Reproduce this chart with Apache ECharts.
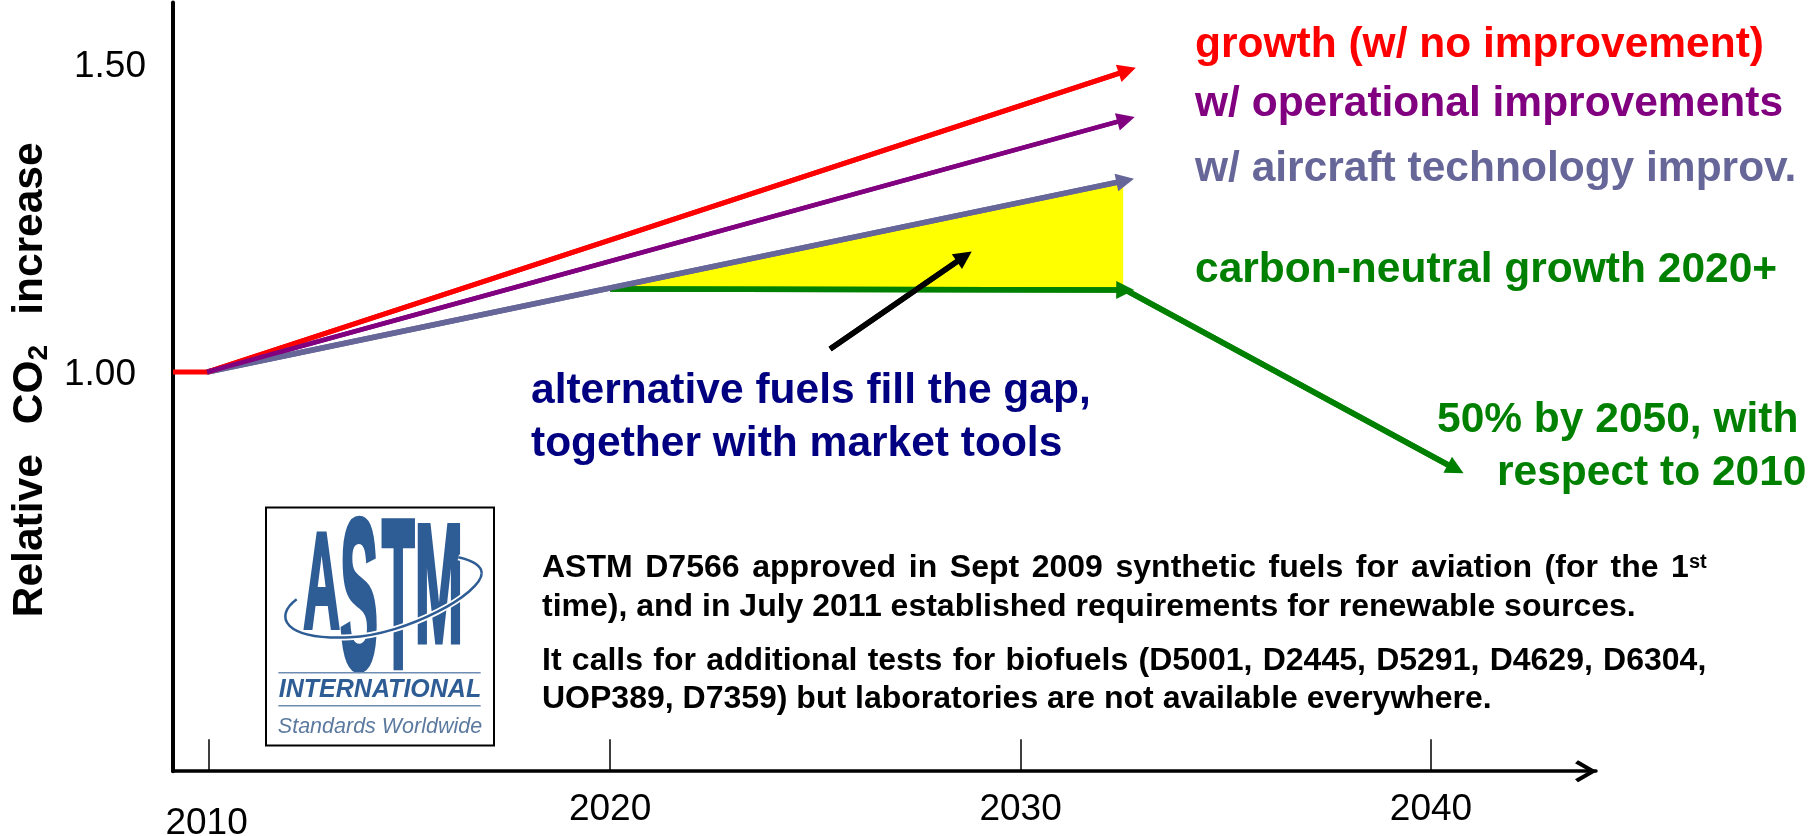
<!DOCTYPE html>
<html><head><meta charset="utf-8">
<style>html,body{margin:0;padding:0;background:#fff}#c{width:1810px;height:836px}</style>
<script src="https://cdn.jsdelivr.net/npm/echarts@6/dist/echarts.min.js"></script>
</head><body><div id="c"></div>
<script>
// ---- data ----
const xTicks = [2010.23, 2020, 2030, 2040];
const yTicks = [1.0, 1.5];
const growthX = [2009.35, 2010.18, 2032.6];
const growthY = [1.0, 1.0, 1.4894];
const operationalX = [2010.18, 2032.57];
const operationalY = [1.0, 1.41];
const technologyX = [2010.18, 2032.55];
const technologyY = [1.0, 1.3106];
const neutralX = [2020, 2032.55];
const neutralY = [1.1347, 1.1331];
const reductionX = [2032.38, 2040.6];
const reductionY = [1.1396, 0.8425];
const pointerX = [2025.36, 2028.63];
const pointerY = [1.0373, 1.1875];
const gapX = [2020, 2032.5, 2032.5];
const gapY = [1.136, 1.308, 1.138];
// ---- text ----
const seriesLabels = ['growth (w/ no improvement)','w/ operational improvements','w/ aircraft technology improv.','carbon-neutral growth 2020+'];
const gapLabel = ['alternative fuels fill the gap,','together with market tools'];
const targetLabel = ['50% by 2050, with','respect to 2010'];
const noteLines = [
 'ASTM D7566 approved in Sept 2009 synthetic fuels for aviation (for the 1{sup|st}',
 'time), and in July 2011 established requirements for renewable sources.',
 'It calls for additional tests for biofuels (D5001, D2445, D5291, D4629, D6304,',
 'UOP389, D7359) but laboratories are not available everywhere.'];
const FONT='"Liberation Sans",Arial,sans-serif';
const RED='#ff0000',PUR='#800080',SLATE='#666699',GRN='#008000',NAVY='#000080',LOGO='#2e5c95';
const zip=(a,b)=>a.map((v,i)=>[v,b[i]]);
function arrowLine(name,xs,ys,color,width,head){
  const d=zip(xs,ys),n=d.length;
  return {type:'line',name,data:d,showSymbol:false,symbol:'none',silent:true,
    lineStyle:{color,width,cap:'butt',join:'miter'},
    markLine:{silent:true,animation:false,symbol:['none','triangle'],symbolSize:head||18,
      label:{show:false},lineStyle:{color,width,type:'solid'},emphasis:{disabled:true},
      data:[[{coord:d[n-2]},{coord:d[n-1]}]]}};
}
function T(text,x,y,size,color,extra){
  return {type:'text',x,y,silent:true,style:Object.assign({text,fill:color,
    font:`bold ${size}px ${FONT}`,textVerticalAlign:'middle',textAlign:'left'},extra||{})};
}
function J(line,y,gap){
  const F=`bold 32px ${FONT}`;
  return T(line.split(' ').join('{g| }'),542,y,32,'#000',{rich:{
    g:{font:F,fill:'#000',padding:[0,gap,0,0]},
    sup:{font:`bold 20px ${FONT}`,fill:'#000',verticalAlign:'top',padding:[0,0,10,0]}}});
}
const zx=v=>240+v/3, zy=v=>480+v/3;
function L(ch,cx,cy,sx,sy){return {type:'text',x:zx(cx),y:zy(cy)+7.2*sy,scaleX:sx,scaleY:sy,silent:true,
  style:{text:ch,fill:LOGO,stroke:LOGO,lineWidth:3,font:`bold 100px ${FONT}`,textAlign:'center',textVerticalAlign:'middle'}};}
function B(p,color,w){return {type:'bezierCurve',silent:true,shape:{x1:zx(p[0]),y1:zy(p[1]),cpx1:zx(p[2]),cpy1:zy(p[3]),cpx2:zx(p[4]),cpy2:zy(p[5]),x2:zx(p[6]),y2:zy(p[7])},
  style:{stroke:color,lineWidth:w,fill:null}};}
const swoosh=[[170,358,100,410,130,480,330,472],[330,472,500,465,725,340,725,280],[725,280,725,255,690,240,655,232]];
const logo=[
 {type:'rect',silent:true,shape:{x:266,y:507.5,width:228,height:238},style:{fill:'#fff',stroke:'#000',lineWidth:2}},
 L('A',245,302,.51,1.37),L('S',357,342,.57,2.13),L('T',475,340,.54,2.12),L('M',597,310,.58,1.68),
 ...swoosh.map(p=>B(p,'#fff',6)),...swoosh.map(p=>B(p,LOGO,2.5)),
 {type:'line',silent:true,shape:{x1:zx(115),y1:zy(578),x2:zx(722),y2:zy(578)},style:{stroke:'#6f8db3',lineWidth:1.5}},
 {type:'line',silent:true,shape:{x1:zx(115),y1:zy(677),x2:zx(722),y2:zy(677)},style:{stroke:'#6f8db3',lineWidth:1.5}},
 {type:'text',x:zx(420),y:zy(630),silent:true,style:{text:'INTERNATIONAL',fill:LOGO,font:`italic bold 25px ${FONT}`,textAlign:'center',textVerticalAlign:'middle'}},
 {type:'text',x:zx(420),y:zy(742),silent:true,style:{text:'Standards Worldwide',fill:'#5c7a9f',font:`italic 21.5px ${FONT}`,textAlign:'center',textVerticalAlign:'middle'}}
];
const option={
 animation:false,backgroundColor:'#fff',
 grid:{left:173,top:2.4,width:1423,height:768.8,containLabel:false,outerBoundsMode:'none'},
 xAxis:{type:'value',min:2009.35,max:2044.02,splitLine:{show:false},
   axisLine:{onZero:false,lineStyle:{color:'#000',width:3.5},symbol:['none','path://M11 0L22 19L19 22L11 8L3 22L0 19Z'],symbolSize:[22,22],symbolOffset:[0,-10]},
   axisTick:{customValues:xTicks,inside:true,length:32,lineStyle:{color:'#000',width:1.5}},
   axisLabel:{customValues:xTicks,margin:20,color:'#000',fontFamily:FONT,fontSize:37,hideOverlap:false,
     formatter:v=>{const y=Math.round(v);return y===2010?`{low|${y}}`:String(y);},
     rich:{low:{fontFamily:FONT,fontSize:37,color:'#000',padding:[14,5,0,0]}}}},
 yAxis:{type:'value',min:0.352,max:1.6,splitLine:{show:false},
   name:'Relative  {sp| }CO{sub|2}  {sp| }increase',nameLocation:'middle',nameRotate:90,nameGap:118,
   nameTextStyle:{color:'#000',fontFamily:FONT,fontWeight:'bold',fontSize:42.5,padding:[0,0,0,14],
     rich:{sub:{fontFamily:FONT,fontWeight:'bold',fontSize:28,color:'#000',verticalAlign:'bottom',padding:[18,0,0,0]},
           sp:{fontFamily:FONT,fontWeight:'bold',fontSize:23,color:'#000'}}},
   axisLine:{onZero:false,lineStyle:{color:'#000',width:4}},axisTick:{show:false},
   axisLabel:{customValues:yTicks,margin:27,color:'#000',fontFamily:FONT,fontSize:37,
     formatter:v=>v===1?`{low|${v.toFixed(2)}}`:`{high|${v.toFixed(2)}}`,
     rich:{low:{fontFamily:FONT,fontSize:37,color:'#000',padding:[6,10,0,0]},
           high:{fontFamily:FONT,fontSize:37,color:'#000',padding:[6,0,0,0]}}}},
 series:[
  {type:'custom',name:'gap',silent:true,clip:false,coordinateSystem:'cartesian2d',data:[[gapX[0],gapY[0]]],
   renderItem:(p,api)=>({type:'polygon',shape:{points:gapX.map((x,i)=>api.coord([x,gapY[i]]))},style:{fill:'#ffff00'}})},
  arrowLine('carbon-neutral',neutralX,neutralY,GRN,5.5),
  arrowLine('reduction',reductionX,reductionY,GRN,5.5),
  arrowLine('technology',technologyX,technologyY,SLATE,5.5),
  arrowLine('growth',growthX,growthY,RED,5),
  arrowLine('operational',operationalX,operationalY,PUR,4.5),
  arrowLine('pointer',pointerX,pointerY,'#000',5.5)
 ],
 graphic:{elements:[
  T(seriesLabels[0],1195,45,42.5,RED),
  T(seriesLabels[1],1195,104,42.5,PUR),
  T(seriesLabels[2],1195,169,42.5,SLATE),
  T(seriesLabels[3],1195,270,42.5,GRN),
  T(gapLabel[0],531,391.5,42.5,NAVY),
  T(gapLabel[1],531,444,42.5,NAVY),
  T(targetLabel[0],1437,420,42.5,GRN),
  T(targetLabel[1],1497,473,42.5,GRN),
  J(noteLines[0],568,3.7),
  J(noteLines[1],607,0),
  J(noteLines[2],661,1.4),
  J(noteLines[3],699,0),
  ...logo
 ]}
};
const chart=echarts.init(document.getElementById('c'),null,{renderer:'canvas'});
chart.setOption(option);
</script></body></html>
